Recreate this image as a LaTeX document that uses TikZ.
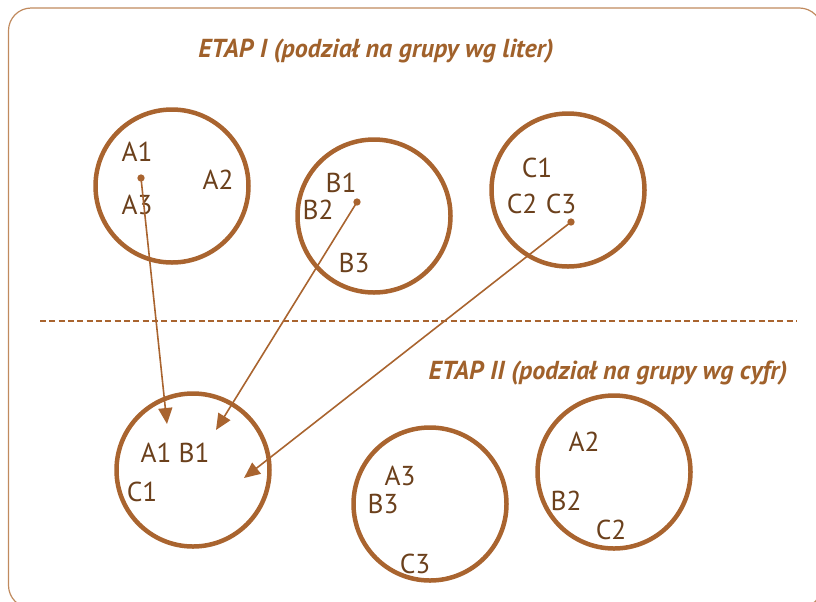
\documentclass[tikz,border=0pt]{standalone}
\usepackage{fontspec}
\setmainfont{PT Sans}
\usetikzlibrary{arrows.meta}
\definecolor{ring}{HTML}{A9642F}
\definecolor{lbl}{HTML}{6B401C}
\definecolor{ttl}{HTML}{A0612B}
\definecolor{frame}{HTML}{C08A5E}
\tikzset{
  grp/.style={circle, draw=ring, line width=4.5pt*0.75, minimum size=153*0.75pt, inner sep=0pt},
  lab/.style={text=lbl, font=\fontsize{20.5}{22}\selectfont, inner sep=0pt},
  ttlstyle/.style={text=ttl, font=\fontsize{19.5}{21}\selectfont\bfseries\itshape, inner sep=0pt},
  dotn/.style={circle, fill=ring, minimum size=5.5pt, inner sep=0pt},
  move/.style={draw=ring, line width=1.2pt, -{Triangle[length=12pt,width=10.5pt]}},
}
\begin{document}
\begin{tikzpicture}[x=0.75pt,y=-0.75pt]
\useasboundingbox (0,0) rectangle (816,601);
\clip (0,0) rectangle (816,601);
% frame
\draw[frame, line width=0.9pt, rounded corners=17pt] (8.5,8) rectangle (822,608);
% titles
\node[ttlstyle] (t1) at (376,51) {ETAP I (podział na grupy wg liter)};
\node[ttlstyle] (t2) at (608,373) {ETAP II (podział na grupy wg cyfr)};
% dashed separator
\coordinate (sepL) at (40,321);
\coordinate (sepR) at (797,321);
\draw[ring, line width=1.6pt, dash pattern=on 4.5pt off 2.5pt] (sepL) -- (sepR);
% stage I circles
\node[grp] (ca) at (172,186) {};
\node[grp] (cb) at (374,216) {};
\node[grp] (cc) at (568,190) {};
% stage II circles
\node[grp] (d1) at (193,470) {};
\node[grp] (d3) at (430,504) {};
\node[grp] (d2) at (614,472) {};
% labels stage I
\node[lab] (a1) at (137,152) {A1};
\node[lab] (a2) at (218,180) {A2};
\node[lab] (a3) at (137,205) {A3};
\node[lab] (b1) at (341,183) {B1};
\node[lab] (b2) at (318,210) {B2};
\node[lab] (b3) at (354,263) {B3};
\node[lab] (c1) at (537,168) {C1};
\node[lab] (c2) at (522,204) {C2};
\node[lab] (c3) at (561,204) {C3};
% labels stage II
\node[lab] (x1) at (156,453) {A1};
\node[lab] (y1) at (194,453) {B1};
\node[lab] (z1) at (142,492) {C1};
\node[lab] (x3) at (400,476) {A3};
\node[lab] (y3) at (383,504) {B3};
\node[lab] (z3) at (415,564) {C3};
\node[lab] (x2) at (584,442) {A2};
\node[lab] (y2) at (566,501) {B2};
\node[lab] (z2) at (611,530) {C2};
% dots
\node[dotn] (pa) at (141,178) {};
\node[dotn] (pb) at (357,202) {};
\node[dotn] (pc) at (571,222) {};
% arrow targets
\coordinate (ta) at (167,424);
\coordinate (tb) at (216,430);
\coordinate (tc) at (244,478);
\draw[move] (pa.center) -- (ta);
\draw[move] (pb.center) -- (tb);
\draw[move] (pc.center) -- (tc);
\end{tikzpicture}
\end{document}
